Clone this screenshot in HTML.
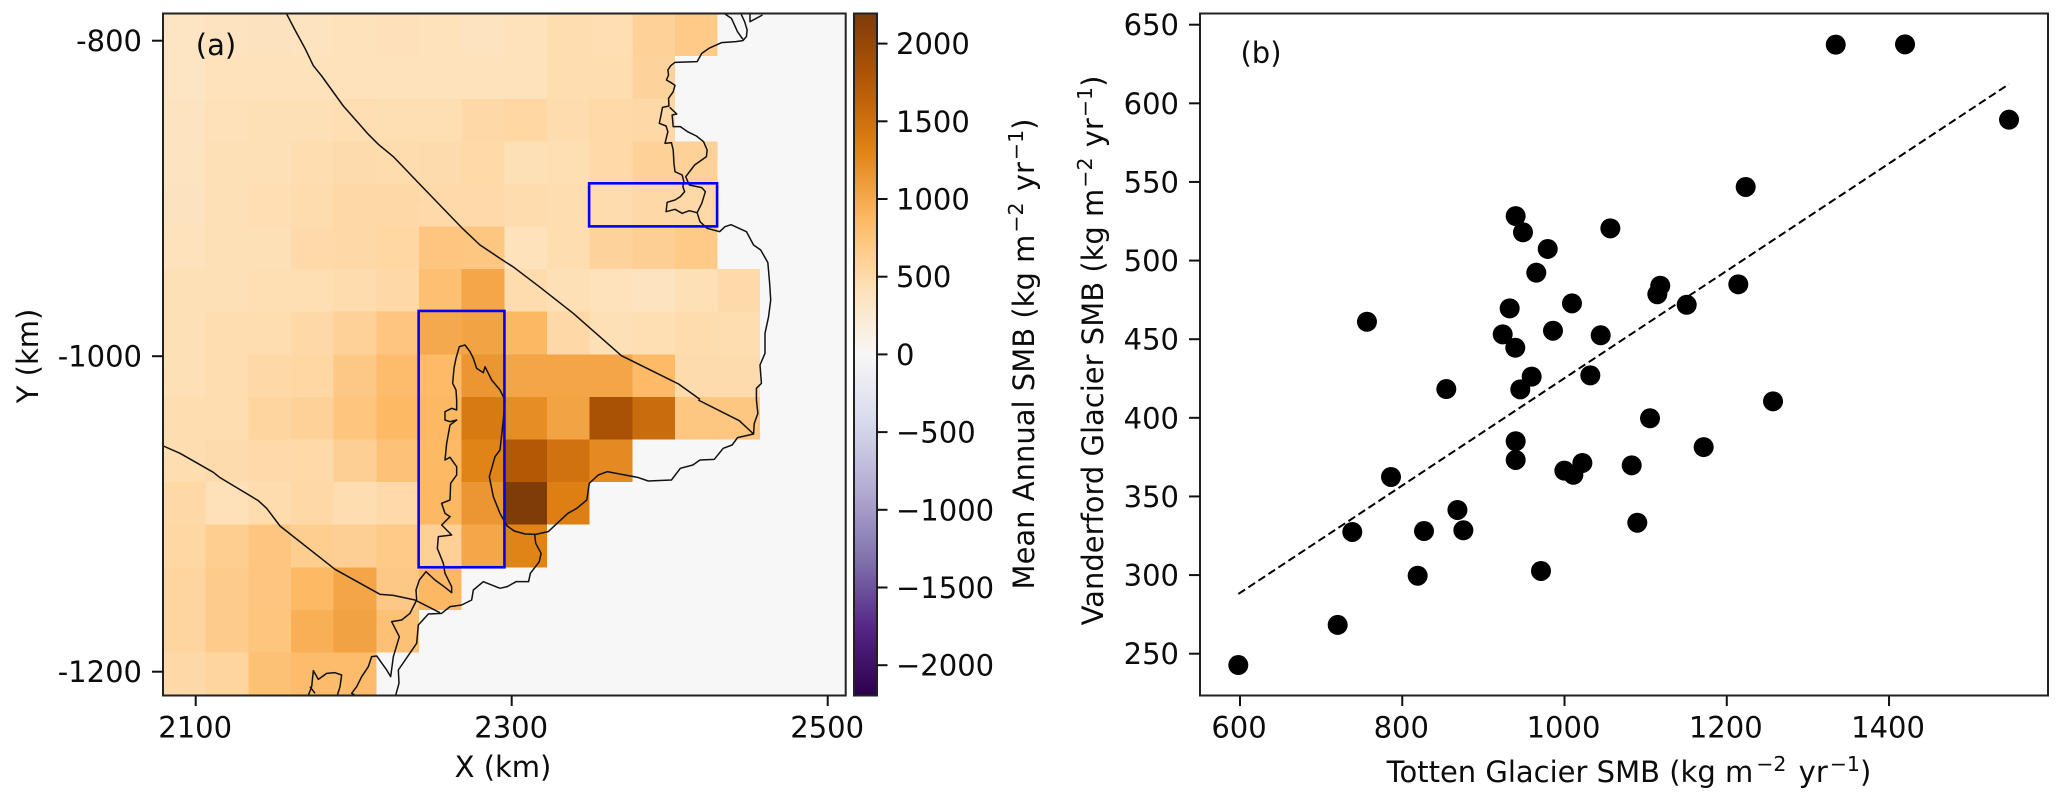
<!DOCTYPE html>
<html lang="en">
<head>
<meta charset="utf-8">
<title>Mean annual SMB map and Totten vs Vanderford scatter</title>
<style>
html,body{margin:0;padding:0;background:#fff;width:2067px;height:801px;overflow:hidden}
svg{display:block}
text{font-family:"DejaVu Sans","Liberation Sans",sans-serif;font-size:29px;fill:#0c0c0c}
.sup{font-size:20.5px}
</style>
</head>
<body>
<svg id="fig" xmlns="http://www.w3.org/2000/svg" width="2067" height="801" viewBox="0 0 2067 801">
  <defs>
    <linearGradient id="cbar-gradient" x1="0" y1="1" x2="0" y2="0"></linearGradient>
    <clipPath id="map-clip"><rect x="163" y="13.5" width="682.7" height="682"></rect></clipPath>
  </defs>
  <rect x="163" y="13.5" width="682.7" height="682" fill="#f7f7f7"></rect>
  <g id="heatmap" clip-path="url(#map-clip)" shape-rendering="crispEdges"></g>
  <g clip-path="url(#map-clip)" fill="none" stroke="#111" stroke-linejoin="round">
    <g transform="translate(0,0) scale(0.33333)">
      <path vector-effect="non-scaling-stroke" stroke-width="1.5" d="M860,42 L885,90 L915,145 L940,197 L965,228 L1030,318 L1105,403 L1135,433 L1180,470 L1250,543 L1385,683 L1440,735 L1500,775"/>
      <path vector-effect="non-scaling-stroke" stroke-width="1.5" d="M1370,1200 L1368,1170 L1358,1150 L1362,1105 L1368,1075 L1378,1040 L1395,1035 L1410,1055 L1420,1075 L1430,1105 L1450,1118 L1455,1100 L1475,1140 L1500,1170 L1515,1200"/>
    </g>
    <g transform="translate(0,400) scale(0.33333)">
      <path vector-effect="non-scaling-stroke" stroke-width="1.5" d="M490,138 L540,160 L640,217 L660,233 L775,302 L800,325 L840,378 L1005,508 L1140,583 L1180,586 L1245,600 L1320,638"/>
      <path vector-effect="non-scaling-stroke" stroke-width="1.5" d="M1370,0 L1370,30 L1355,25 L1335,35 L1335,60 L1350,65 L1370,60 L1350,75 L1340,130 L1335,180 L1350,172 L1370,200 L1370,225 L1352,250 L1350,300 L1325,310 L1335,340 L1350,350 L1325,375 L1355,405 L1315,410 L1312,445 L1330,490 L1335,520 L1355,560 L1355,578 L1335,562 L1305,540 L1278,515 L1258,540 L1248,570 L1250,600 L1230,640 L1205,660 L1175,665 L1198,710 L1180,770 L1172,830 L1160,810 L1130,768 L1115,770 L1105,800 L1085,830 L1070,860 L1055,880 L1065,886"/>
      <path vector-effect="non-scaling-stroke" stroke-width="1.5" d="M1515,0 L1510,60 L1500,150 L1485,170 L1468,230 L1480,290 L1500,340"/>
      <path vector-effect="non-scaling-stroke" stroke-width="1.5" d="M1500,565 L1450,545 L1420,570 L1415,600 L1385,615 L1350,620 L1325,640 L1285,642 L1255,675 L1250,730 L1195,810 L1197,850 L1187,886"/>
      <path vector-effect="non-scaling-stroke" stroke-width="1.5" d="M925,886 L935,860 L940,812 L955,838 L980,820 L1005,818 L1025,825 L1020,860 L1012,886 M930,860 L945,880"/>
    </g>
    <g transform="translate(500,0) scale(0.35714,0.33333)">
      <path vector-effect="non-scaling-stroke" stroke-width="1.5" d="M0,775 L40,803 L110,860 L205,940 L340,1067 L500,1152 L560,1198"/>
      <path vector-effect="non-scaling-stroke" stroke-width="1.5" d="M630,42 L648,55 L665,95 L680,118 M675,42 L685,65 L692,90 L690,110 L680,122 L660,125 L620,128 L585,145 L565,160 L552,185 L490,187 L478,197 L470,210 L472,225 L466,240 L482,250 L490,256 L485,275 L472,295 L473,318 L455,322 L450,350 L446,370 L465,378 L470,395 L462,430 L480,428 L485,450 L487,490 L490,515 L510,525 L515,545 L512,560 L517,575 L505,590 L490,600 L468,607 L465,635 L490,628 L510,640 L530,632 L552,638 L565,610 L575,575 L565,563 L530,555 L520,530 L545,495 L578,470 L580,450 L570,425 L550,408 L525,395 L505,380 L485,380 L482,345 L495,342 L475,322 M552,638 L560,665 L580,685 L615,695 L630,680 L647,674 L690,695 L710,735 L730,750 L750,788 L755,850 L758,900 L752,950 L742,1000 L742,1060 L728,1095 L732,1150 L718,1165 L718,1200 M700,42 L700,65 L735,45"/>
    </g>
    <g transform="translate(500,400) scale(0.35714,0.33333)">
      <path vector-effect="non-scaling-stroke" stroke-width="1.5" d="M555,0 L670,62 L710,102"/>
      <path vector-effect="non-scaling-stroke" stroke-width="1.5" d="M718,0 L722,40 L712,70 L710,102 L665,113 L650,135 L625,145 L600,178 L560,180 L540,195 L505,205 L480,240 L415,243 L385,232 L335,222 L300,215 L275,225 L250,250 L243,300 L215,325 L190,340 L160,370 L135,395 L100,403 L70,402 L40,393 L20,378 L0,340"/>
      <path vector-effect="non-scaling-stroke" stroke-width="1.5" d="M97,403 L100,430 L115,460 L110,485 L85,520 L80,545 L45,545 L20,560 L0,565"/>
    </g>
  </g>
  <g id="boxes" fill="none" stroke="#0000ff" stroke-width="2.6"></g>
  <rect x="163" y="13.5" width="682.7" height="682" fill="none" stroke="#222" stroke-width="2"></rect>
  <g id="mapAxes"></g>
  <text x="216" y="55" text-anchor="middle">(a)</text>
  <text x="503" y="777" text-anchor="middle">X (km)</text>
  <text transform="translate(38,356) rotate(-90)" text-anchor="middle">Y (km)</text>

  <rect id="cbarRect" x="854" y="13.5" width="23" height="682" fill="url(#cbar-gradient)" stroke="#222" stroke-width="2"></rect>
  <g id="cbarAxis"></g>
  <text transform="translate(1034,354) rotate(-90)" text-anchor="middle">Mean Annual SMB (kg m<tspan class="sup" dx="2" dy="-11">−2</tspan><tspan dx="2" dy="11"> yr</tspan><tspan class="sup" dx="2" dy="-11">−1</tspan><tspan dy="11">)</tspan></text>

  <rect x="1200" y="13.5" width="848" height="682" fill="none" stroke="#222" stroke-width="2"></rect>
  <g id="scatterAxes"></g>
  <g id="scatterMarks"></g>
  <text x="1261" y="63" text-anchor="middle">(b)</text>
  <text x="1629" y="782" text-anchor="middle">Totten Glacier SMB (kg m<tspan class="sup" dx="3" dy="-11">−2</tspan><tspan dx="3" dy="11"> yr</tspan><tspan class="sup" dx="2" dy="-11">−1</tspan><tspan dy="11">)</tspan></text>
  <text transform="translate(1103,350.5) rotate(-90)" text-anchor="middle">Vanderford Glacier SMB (kg m<tspan class="sup" dx="1" dy="-11">−2</tspan><tspan dx="1" dy="11"> yr</tspan><tspan class="sup" dx="1" dy="-11">−1</tspan><tspan dy="11">)</tspan></text>
</svg>
<script>
// Map panel data
const mapXTicks = [2100, 2300, 2500];
const mapYTicks = [-800, -1000, -1200];
const cbarTicks = [2000, 1500, 1000, 500, 0, -500, -1000, -1500, -2000];
const cbarLimit = 2194;
const gridOriginX = 2079.3;
const gridOriginY = -782.8;
const gridStep = 27;
const smbRow00 = [360,375,390,385,400,415,400,380,400,470,460,600,680,null];
const smbRow01 = [350,400,400,400,400,400,400,400,400,470,470,580,null,null];
const smbRow02 = [380,420,430,440,460,450,450,520,540,480,510,530,null,null];
const smbRow03 = [380,430,440,470,490,480,490,510,430,450,510,600,600,null];
const smbRow04 = [390,430,460,480,530,520,500,500,480,470,480,520,520,null];
const smbRow05 = [400,430,440,500,520,540,730,720,400,470,580,620,680,null];
const smbRow06 = [440,440,450,450,480,520,800,1020,480,440,400,380,440,500];
const smbRow07 = [440,470,470,520,600,730,1000,1050,880,520,440,450,480,470];
const smbRow08 = [440,470,530,540,700,830,850,1150,1030,1030,1030,850,490,490];
const smbRow09 = [470,470,560,600,740,870,880,1400,1230,1050,1850,1550,720,720];
const smbRow10 = [470,490,500,510,620,770,870,1300,1750,1480,1250,null,null,null];
const smbRow11 = [530,420,480,520,470,500,880,1150,2194,1350,null,null,null,null];
const smbRow12 = [540,640,730,640,620,680,610,1020,1300,null,null,null,null,null];
const smbRow13 = [560,660,730,870,1030,700,880,null,null,null,null,null,null,null];
const smbRow14 = [560,660,740,950,1060,780,null,null,null,null,null,null,null,null];
const smbRow15 = [520,560,780,830,830,null,null,null,null,null,null,null,null,null];
const smbRows = [smbRow00,smbRow01,smbRow02,smbRow03,smbRow04,smbRow05,smbRow06,smbRow07,smbRow08,smbRow09,smbRow10,smbRow11,smbRow12,smbRow13,smbRow14,smbRow15];
const boxXRanges = [[2349, 2430], [2241.1, 2295.4]];
const boxYRanges = [[-890.4, -917.7], [-971.3, -1133.8]];
const boxNames = ['vanderford-box', 'totten-box'];
const cmapStops = ['#2d004b','#542788','#8073ac','#b2abd2','#d8daeb','#f7f7f7','#fee0b6','#fdb863','#e08214','#b35806','#7f3b08'];

// Scatter panel data
const scatterXTicks = [600, 800, 1000, 1200, 1400];
const scatterYTicks = [250, 300, 350, 400, 450, 500, 550, 600, 650];
const tottenSmb = [939.8,948.8,979.3,965.2,932.4,756.5,923.8,939.3,985.8,959.5,945.5,854.3,939.8,939.8,786.1,738.4,868,826.8,875.3,819,971,720.4,597.9,1334.3,1419.7,1547.9,1223.3,1056.5,1118,1114.4,1150.6,1214.2,1009.2,1044.6,1031.8,1257,1105.4,1171.5,1022,999.8,1010.9,1082.8,1089.7];
const vanderfordSmb = [528.3,518,507.4,492.3,469.6,461.1,453.1,444.6,455.4,426.2,418.1,418.3,385.1,373.2,362.4,327.4,341.4,328,328.5,299.6,302.6,268.3,242.8,637.3,637.5,589.6,546.8,520.5,484,478.6,471.9,484.9,472.8,452.5,427,410.5,399.7,381.4,371.3,366.4,363.8,369.8,333.3];
const trendX = [598, 1548];
const trendY = [288, 612.3];

const NS = 'http://www.w3.org/2000/svg';
function make(parent, tag, attrs, txt) {
  const el = document.createElementNS(NS, tag);
  for (const k in attrs) el.setAttribute(k, attrs[k]);
  if (txt !== undefined) el.textContent = txt;
  parent.appendChild(el);
  return el;
}
function mapX(km) { return 195.7 + (km - 2100) * 1.58; }
function mapY(km) { return 40.7 + (-800 - km) * 1.5775; }
function cbarY(v) { return 354.4 - v * 0.1554; }
function scatX(v) { return 1240 + (v - 600) * 0.8113; }
function scatY(v) { return 653.7 - (v - 250) * 1.5725; }
function hexToRgb(h) { return [1, 3, 5].map(i => parseInt(h.substr(i, 2), 16)); }
function smbColor(v) {
  const t = Math.max(0, Math.min(1, (v + cbarLimit) / (2 * cbarLimit))) * (cmapStops.length - 1);
  const i = Math.min(Math.floor(t), cmapStops.length - 2);
  const a = hexToRgb(cmapStops[i]);
  const b = hexToRgb(cmapStops[i + 1]);
  const f = t - i;
  return 'rgb(' + a.map((c, n) => Math.round(c + (b[n] - c) * f)).join(',') + ')';
}

const heat = document.getElementById('heatmap');
smbRows.forEach((row, r) => {
  row.forEach((v, c) => {
    if (v === null) return;
    const x0 = mapX(gridOriginX + gridStep * c);
    const x1 = mapX(gridOriginX + gridStep * (c + 1));
    const y0 = mapY(gridOriginY - gridStep * r);
    const y1 = mapY(gridOriginY - gridStep * (r + 1));
    const cell = make(heat, 'rect', {x: x0, y: y0, width: x1 - x0, height: y1 - y0, fill: smbColor(v)});
    
    
  });
});

const boxes = document.getElementById('boxes');
boxXRanges.forEach((xr, i) => {
  const x0 = mapX(xr[0]), x1 = mapX(xr[1]);
  const y0 = mapY(boxYRanges[i][0]), y1 = mapY(boxYRanges[i][1]);
  const box = make(boxes, 'rect', {x: x0, y: y0, width: x1 - x0, height: y1 - y0});
  
  
});

const mapAxes = document.getElementById('mapAxes');
mapXTicks.forEach(v => {
  const px = mapX(v);
  const tick = make(mapAxes, 'line', {x1: px, x2: px, y1: 696, y2: 706, stroke: '#111', 'stroke-width': 2});
  
  
  const label = make(mapAxes, 'text', {x: px - 0.5, y: 737.5, 'text-anchor': 'middle'}, String(v));
  
  
});
mapYTicks.forEach(v => {
  const py = mapY(v);
  const tick = make(mapAxes, 'line', {x1: 152, x2: 163, y1: py, y2: py, stroke: '#111', 'stroke-width': 2});
  
  
  const label = make(mapAxes, 'text', {x: 142, y: py + 10.5, 'text-anchor': 'end'}, String(v));
  
  
});

const grad = document.getElementById('cbar-gradient');
cmapStops.forEach((c, i) => {
  make(grad, 'stop', {offset: i / (cmapStops.length - 1), 'stop-color': c});
});
const cbarAxis = document.getElementById('cbarAxis');
cbarTicks.forEach(v => {
  const py = cbarY(v);
  const tick = make(cbarAxis, 'line', {x1: 877, x2: 887.5, y1: py, y2: py, stroke: '#111', 'stroke-width': 2});
  
  
  const label = make(cbarAxis, 'text', {x: 896, y: py + 10.5, 'text-anchor': 'start'}, String(v).replace('-', '\u2212'));
  
  
});

const scatterAxes = document.getElementById('scatterAxes');
scatterXTicks.forEach(v => {
  const px = scatX(v);
  const tick = make(scatterAxes, 'line', {x1: px, x2: px, y1: 696, y2: 706, stroke: '#111', 'stroke-width': 2});
  
  
  const label = make(scatterAxes, 'text', {x: px - 1, y: 737.5, 'text-anchor': 'middle'}, String(v));
  
  
});
scatterYTicks.forEach(v => {
  const py = scatY(v);
  const tick = make(scatterAxes, 'line', {x1: 1189, x2: 1200, y1: py, y2: py, stroke: '#111', 'stroke-width': 2});
  
  
  const label = make(scatterAxes, 'text', {x: 1179, y: py + 10.5, 'text-anchor': 'end'}, String(v));
  
  
});

const marks = document.getElementById('scatterMarks');
const trend = make(marks, 'line', {x1: scatX(trendX[0]), y1: scatY(trendY[0]), x2: scatX(trendX[1]), y2: scatY(trendY[1]), stroke: '#000', 'stroke-width': 2, 'stroke-dasharray': '8 4'});


tottenSmb.forEach((v, i) => {
  const dot = make(marks, 'circle', {cx: scatX(v), cy: scatY(vanderfordSmb[i]), r: 10, fill: '#000'});
  
  
});
</script>
</body>
</html>
